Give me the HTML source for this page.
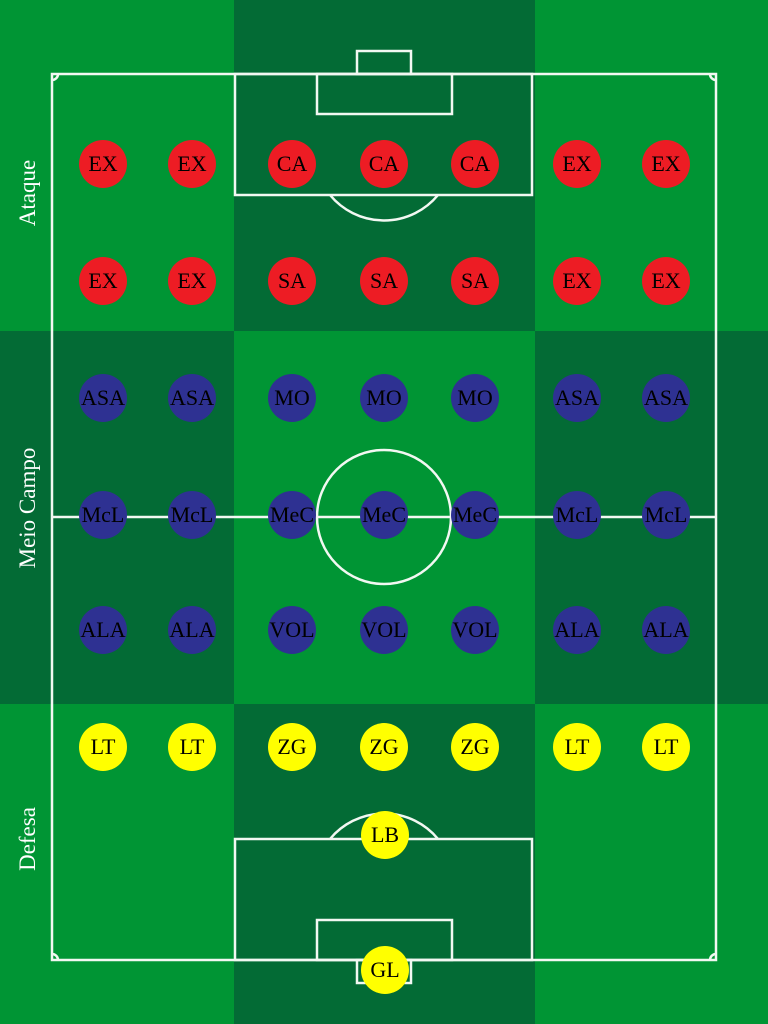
<!DOCTYPE html>
<html><head><meta charset="utf-8"><style>
html,body{margin:0;padding:0;background:#009534}
svg{display:block}
text{font-family:"Liberation Serif",serif}
</style></head><body>
<svg id="pitch" width="768" height="1024" viewBox="0 0 768 1024">
<g>
<rect x="0" y="0" width="768" height="1024" fill="#009534"/>
<rect x="234" y="0" width="301" height="331" fill="#036B35"/>
<rect x="0" y="331" width="234" height="373" fill="#036B35"/>
<rect x="535" y="331" width="233" height="373" fill="#036B35"/>
<rect x="234" y="704" width="301" height="320" fill="#036B35"/>
</g>
<g fill="none" stroke="#F2F8F2" stroke-width="2.5">
<rect x="52" y="74" width="664" height="886"/>
<line x1="52" y1="517" x2="716" y2="517"/>
<circle cx="384" cy="517" r="67"/>
<rect x="235" y="74" width="297" height="121"/>
<rect x="317" y="74" width="135" height="40"/>
<rect x="357" y="51" width="54" height="23"/>
<path d="M330 195 A70 70 0 0 0 438 195"/>
<rect x="235" y="839" width="297" height="121"/>
<rect x="317" y="920" width="135" height="40"/>
<rect x="357" y="960" width="54" height="23"/>
<path d="M330 839 A70 70 0 0 1 438 839"/>
<path d="M52 80 A6 6 0 0 0 58 74 M710 74 A6 6 0 0 0 716 80 M52 954 A6 6 0 0 1 58 960 M710 960 A6 6 0 0 1 716 954"/>
</g>
<g fill="#FFFFFF" font-size="23" text-anchor="middle">
<text transform="translate(35,193) rotate(-90)">Ataque</text>
<text transform="translate(35,508) rotate(-90)">Meio Campo</text>
<text transform="translate(35,839) rotate(-90)">Defesa</text>
</g>
<g id="players"></g>
</svg>
<script>
const colsX=[103,192,292,384,475,577,666];
const rowsY=[164,281,398,515,630,747];
const rowLabels=[
["EX","EX","CA","CA","CA","EX","EX"],
["EX","EX","SA","SA","SA","EX","EX"],
["ASA","ASA","MO","MO","MO","ASA","ASA"],
["McL","McL","MeC","MeC","MeC","McL","McL"],
["ALA","ALA","VOL","VOL","VOL","ALA","ALA"],
["LT","LT","ZG","ZG","ZG","LT","LT"]];
const rowColors=["#ED1C24","#ED1C24","#2E3192","#2E3192","#2E3192","#FFFF00"];
const extras=[["LB",385,835],["GL",385,970]];
const g=document.getElementById('players');
const NS="http://www.w3.org/2000/svg";
function add(label,x,y,color){
 const gg=document.createElementNS(NS,'g');
 
 
 const c=document.createElementNS(NS,'circle');
 c.setAttribute('cx',x);c.setAttribute('cy',y);c.setAttribute('r',24);c.setAttribute('fill',color);
 const t=document.createElementNS(NS,'text');
 t.setAttribute('x',x);t.setAttribute('y',y+7);t.setAttribute('text-anchor','middle');
 t.setAttribute('font-size','22');t.setAttribute('fill','#000');
 t.textContent=label;
 gg.appendChild(c);gg.appendChild(t);g.appendChild(gg);
}
rowLabels.forEach((r,i)=>r.forEach((l,j)=>add(l,colsX[j],rowsY[i],rowColors[i])));
extras.forEach(e=>add(e[0],e[1],e[2],"#FFFF00"));
</script>
</body></html>
